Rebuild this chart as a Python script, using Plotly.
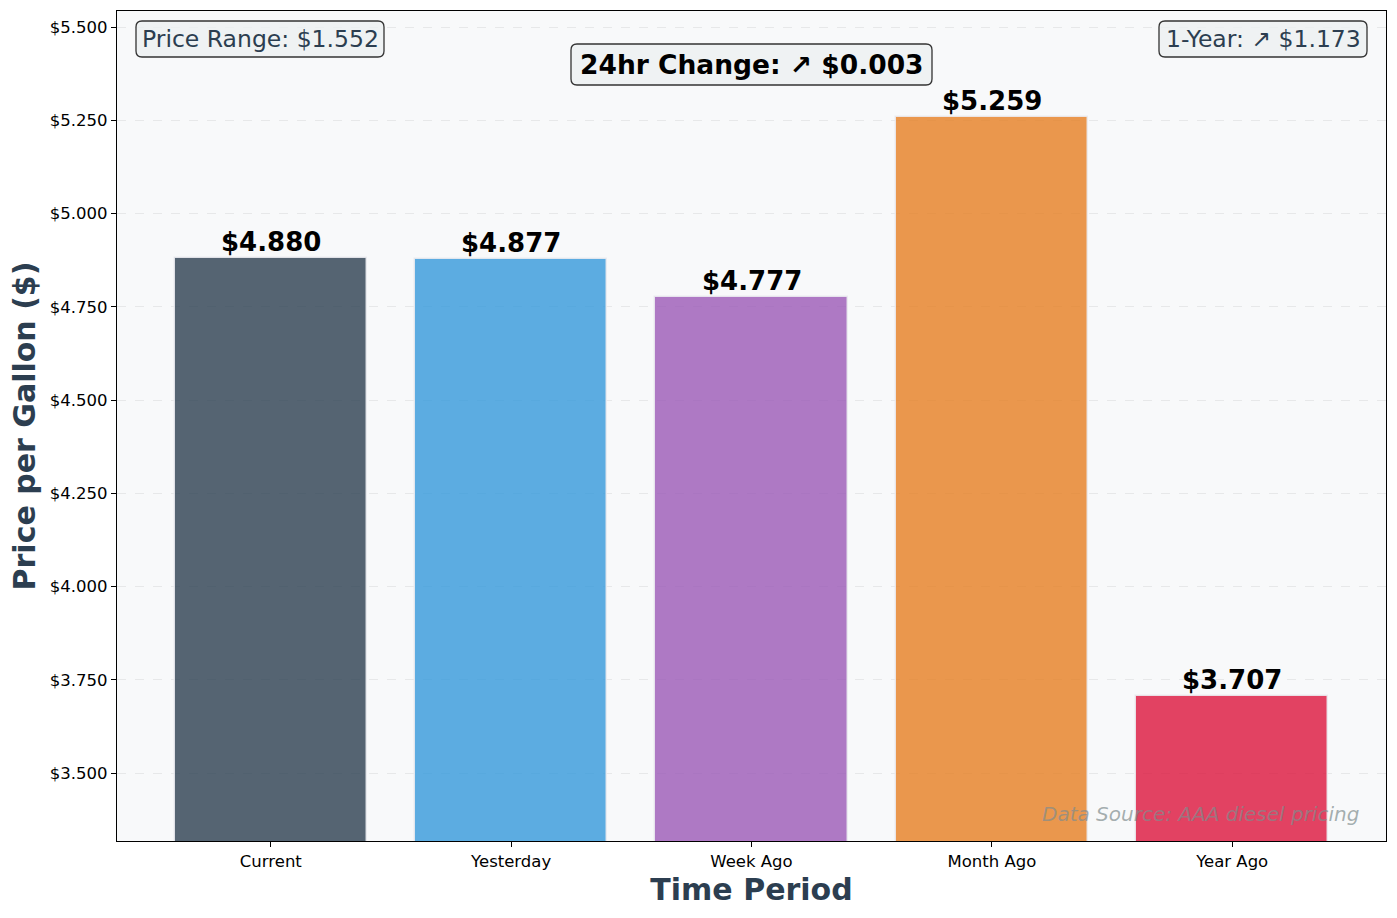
import plotly.graph_objects as go

periods = ["Current", "Yesterday", "Week Ago", "Month Ago", "Year Ago"]
prices = [4.880, 4.877, 4.777, 5.259, 3.707]
bar_colors = ["#2c3e50", "#3498db", "#9b59b6", "#e67e22", "#dc143c"]
y_ticks = [3.5, 3.75, 4.0, 4.25, 4.5, 4.75, 5.0, 5.25, 5.5]

price_range = max(prices) - min(prices)
year_change = prices[0] - prices[4]
day_change = prices[0] - prices[1]

def hex_rgba(h, a):
    h = h.lstrip("#")
    return "rgba(%d,%d,%d,%s)" % (int(h[0:2], 16), int(h[2:4], 16), int(h[4:6], 16), a)

FONT = "DejaVu Sans"
W, H = 1397, 918
ML, MR, MT, MB = 117, 11, 11, 77
PW, PH = W - ML - MR, H - MT - MB

def px(x):
    return (x - ML) / PW

def py(y):
    return (H - MB - y) / PH

def rounded_box(x0, y0, x1, y1, r=6):
    X0, X1 = px(x0), px(x1)
    Y0, Y1 = py(y1), py(y0)
    rx, ry = r / PW, r / PH
    return ("M %f,%f L %f,%f Q %f,%f %f,%f L %f,%f Q %f,%f %f,%f "
            "L %f,%f Q %f,%f %f,%f L %f,%f Q %f,%f %f,%f Z") % (
        X0 + rx, Y0, X1 - rx, Y0, X1, Y0, X1, Y0 + ry,
        X1, Y1 - ry, X1, Y1, X1 - rx, Y1,
        X0 + rx, Y1, X0, Y1, X0, Y1 - ry,
        X0, Y0 + ry, X0, Y0, X0 + rx, Y0)

fig = go.Figure()
fig.add_trace(go.Bar(
    x=periods, y=prices, width=0.8,
    marker=dict(color=[hex_rgba(c, 0.8) for c in bar_colors],
                line=dict(color="rgba(235,235,240,0.9)", width=1.5)),
    hoverinfo="skip",
))

annotations = []
for p, v in zip(periods, prices):
    annotations.append(dict(
        x=p, y=v, xref="x", yref="y", text="<b>$%.3f</b>" % v,
        showarrow=False, yanchor="bottom", yshift=-1,
        font=dict(family=FONT, size=26, color="black")))

box_bg = "rgba(236,240,241,0.8)"
shapes = []
for (x0, y0, x1, y1) in [(136, 21, 384, 57), (1159, 21, 1367, 57), (571, 44, 932, 85)]:
    shapes.append(dict(type="path", xref="paper", yref="paper",
                       path=rounded_box(x0, y0, x1, y1),
                       fillcolor=box_bg, line=dict(color="#333333", width=1.3),
                       layer="above"))

annotations.append(dict(
    x=px(260), y=py(39), xref="paper", yref="paper", xanchor="center", yanchor="middle",
    text="Price Range: $%.3f" % price_range, showarrow=False,
    font=dict(family=FONT, size=23.5, color="#2c3e50")))
annotations.append(dict(
    x=px(1263), y=py(39), xref="paper", yref="paper", xanchor="center", yanchor="middle",
    text="1-Year: \u2197 $%.3f" % year_change, showarrow=False,
    font=dict(family=FONT, size=23.5, color="#2c3e50")))
annotations.append(dict(
    x=px(751.5), y=py(64.5), xref="paper", yref="paper", xanchor="center", yanchor="middle",
    text="<b>24hr Change: \u2197 $%.3f</b>" % day_change, showarrow=False,
    font=dict(family=FONT, size=26.5, color="black")))
annotations.append(dict(
    x=0.98, y=py(814), xref="paper", yref="paper", xanchor="right", yanchor="middle",
    text="<i>Data Source: AAA diesel pricing</i>", showarrow=False,
    font=dict(family=FONT, size=20, color="rgba(127,140,141,0.7)")))

fig.update_layout(
    width=W, height=H,
    margin=dict(l=ML, r=MR, t=MT, b=MB),
    paper_bgcolor="white", plot_bgcolor="#f8f9fa",
    showlegend=False,
    font=dict(family=FONT, size=16.5, color="black"),
    annotations=annotations,
    shapes=shapes,
    bargap=0,
)
fig.update_xaxes(
    range=[-0.64, 4.64], showgrid=False, zeroline=False,
    showline=True, linecolor="black", linewidth=1.2, mirror=True,
    ticks="outside", ticklen=5, tickwidth=1, tickcolor="black",
    tickfont=dict(family=FONT, size=16.5, color="black"),
    title=dict(text="<b>Time Period</b>", standoff=9,
               font=dict(family=FONT, size=30, color="#2c3e50")),
)
fig.update_yaxes(
    range=[3.3177, 5.543], tickmode="array", tickvals=y_ticks,
    ticktext=["$%.3f" % t for t in y_ticks],
    showgrid=True, gridcolor="rgba(200,200,200,0.35)", griddash="dash", gridwidth=1,
    zeroline=False,
    showline=True, linecolor="black", linewidth=1.2, mirror=True,
    ticks="outside", ticklen=5, tickwidth=1, tickcolor="black",
    tickfont=dict(family=FONT, size=16.5, color="black"),
    title=dict(text="<b>Price per Gallon ($)</b>", standoff=5,
               font=dict(family=FONT, size=30, color="#2c3e50")),
)

fig.write_html("out.html")
